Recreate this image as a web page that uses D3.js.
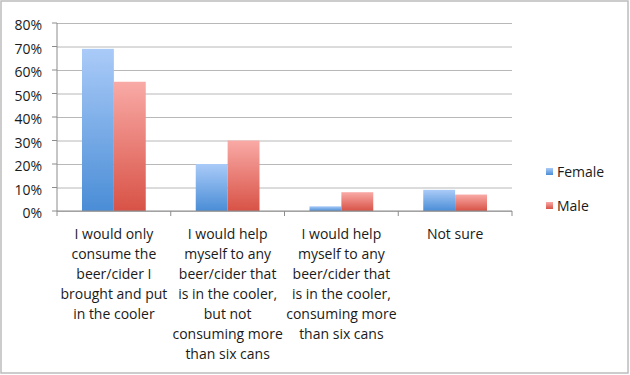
<!doctype html>
<html>
  <head>
    <script src="https://cdnjs.cloudflare.com/ajax/libs/d3/7.8.5/d3.min.js"></script>
  <style>
    body { margin: 0; background: #fff; }
    svg text { font-family: "Open Sans", sans-serif; fill: #1a1a1a; }
    .grid path.domain { stroke: none; }
  </style>
  </head>
  <body>
    <svg id="chart" width="630" height="375"></svg>
    <script>
      var categories = [
        ["I would only", "consume the", "beer/cider I", "brought and put", "in the cooler"],
        ["I would help", "myself to any", "beer/cider that", "is in the cooler,", "but not", "consuming more", "than six cans"],
        ["I would help", "myself to any", "beer/cider that", "is in the cooler,", "consuming more", "than six cans"],
        ["Not sure"]
      ];
      var seriesNames = ["Female", "Male"];
      var female = [69, 20, 2, 9];
      var male = [55, 30, 8, 7];
      var yTicks = [0, 10, 20, 30, 40, 50, 60, 70, 80];

      var svg = d3.select("#chart");

      // outer chart border
      svg.append("rect")
        .attr("x", 1).attr("y", 1)
        .attr("width", 627).attr("height", 372)
        .attr("fill", "none")
        .attr("stroke", "#bcbcbc")
        .attr("stroke-width", 1.5);

      var defs = svg.append("defs");
      var grads = [["gFemale", "#aacbf8", "#4a8dd6"], ["gMale", "#f9aaa6", "#d85246"]];
      grads.forEach(function(g) {
        var lg = defs.append("linearGradient").attr("id", g[0])
          .attr("x1", 0).attr("y1", 0).attr("x2", 0).attr("y2", 1);
        lg.append("stop").attr("offset", "0%").attr("stop-color", g[1]);
        lg.append("stop").attr("offset", "100%").attr("stop-color", g[2]);
      });

      var x0 = d3.scaleBand().domain(d3.range(categories.length)).range([57, 512]).paddingInner(0).paddingOuter(0);
      var x1 = d3.scaleBand().domain(seriesNames).range([25, x0.bandwidth() - 25]);
      var y = d3.scaleLinear().domain([0, 80]).range([211, 23]);

      // gridlines
      svg.append("g").attr("class", "grid")
        .attr("transform", "translate(57,0)")
        .call(d3.axisRight(y).tickValues(yTicks).tickSize(455).tickFormat(""))
        .selectAll("line").attr("stroke", "#b8b8b8");

      // y labels
      svg.append("g").selectAll("text.ylab")
        .data(yTicks)
        .enter().append("text")
          .attr("class", "ylab")
          .attr("x", 42)
          .attr("y", d => y(d) + 7)
          .attr("text-anchor", "end")
          .style("font-size", "14px")
          .text(d => d + "%");

      // axis lines
      svg.append("line").attr("x1", 57).attr("x2", 57).attr("y1", 23).attr("y2", 211).attr("stroke", "#8c8c8c");
      svg.append("g").selectAll("line.ytick").data(yTicks).enter().append("line")
        .attr("x1", 52).attr("x2", 57).attr("y1", d => y(d)).attr("y2", d => y(d)).attr("stroke", "#8c8c8c");

      // bars
      var data = categories.map((c, i) => ({ i: i, vals: [female[i], male[i]] }));
      var groups = svg.selectAll("g.cat").data(data).enter().append("g")
        .attr("class", "cat")
        .attr("transform", d => "translate(" + x0(d.i) + ",0)");
      groups.selectAll("rect").data(d => d.vals.map((v, k) => ({ k: k, v: v })))
        .enter().append("rect")
          .attr("x", d => x1(seriesNames[d.k]))
          .attr("width", x1.bandwidth())
          .attr("y", d => y(d.v))
          .attr("height", d => y(0) - y(d.v))
          .attr("fill", d => d.k === 0 ? "url(#gFemale)" : "url(#gMale)");

      // x axis
      svg.append("line").attr("x1", 57).attr("x2", 512).attr("y1", 211).attr("y2", 211).attr("stroke", "#8c8c8c");
      svg.append("g").selectAll("line.xtick").data(d3.range(categories.length + 1)).enter().append("line")
        .attr("x1", d => 57 + d * x0.bandwidth()).attr("x2", d => 57 + d * x0.bandwidth())
        .attr("y1", 211).attr("y2", 216).attr("stroke", "#8c8c8c");

      // category labels
      var labs = svg.selectAll("text.cat").data(categories).enter().append("text")
        .attr("class", "cat")
        .attr("text-anchor", "middle")
        .style("font-size", "14px");
      labs.selectAll("tspan").data((d, i) => d.map(l => ({ l: l, i: i })))
        .enter().append("tspan")
          .attr("x", d => x0(d.i) + x0.bandwidth() / 2)
          .attr("y", (d, j) => 239 + j * 20)
          .text(d => d.l);

      // legend
      var legend = svg.selectAll("g.leg").data(seriesNames).enter().append("g")
        .attr("class", "leg")
        .attr("transform", (d, i) => "translate(546," + (177 + i * 34) + ")");
      legend.append("rect").attr("x", 0).attr("y", -9).attr("width", 7).attr("height", 7)
        .attr("fill", (d, i) => i === 0 ? "url(#gFemale)" : "url(#gMale)");
      legend.append("text").attr("x", 11).attr("y", 0).style("font-size", "14px").text(d => d);
    </script>
  </body>
</html>
